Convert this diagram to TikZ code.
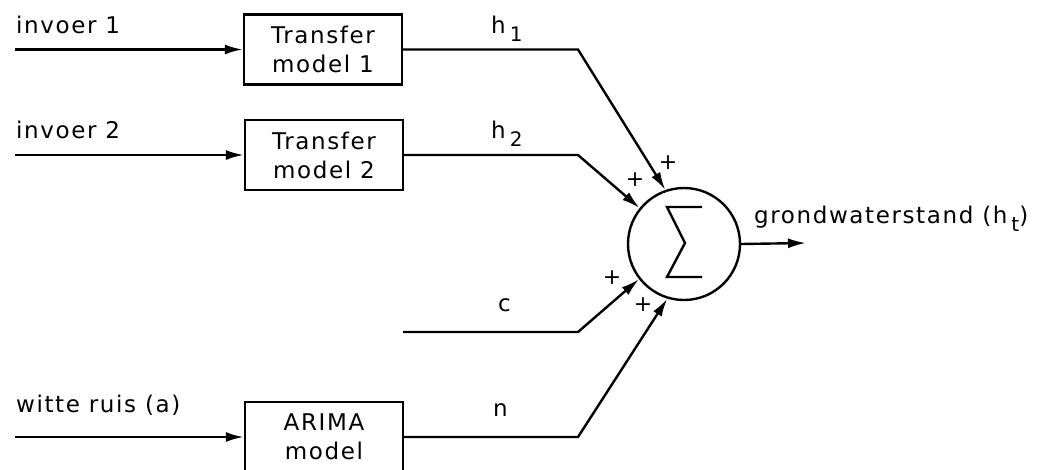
\documentclass[tikz,border=0pt]{standalone}
\usepackage{fontspec}
\setmainfont{DejaVu Sans}[LetterSpace=7]
\usetikzlibrary{arrows.meta}
\newcommand{\lsub}[1]{\kern4pt\raisebox{-8pt}{\fontsize{20}{20}\selectfont #1}}
\begin{document}
\begin{tikzpicture}[x=1pt,y=-1pt,
  line width=2.4pt,
  txt/.style={font=\fontsize{23}{29}\selectfont, inner sep=0pt, anchor=base west},
  blk/.style={draw, line width=2.4pt, minimum width=158pt, minimum height=70pt, align=center, font=\fontsize{23}{29}\selectfont, inner sep=0pt},
  conn/.style={line width=2.4pt, -{Latex[length=18pt,width=10pt]}},
  plus/.style={font=\fontsize{22}{22}\selectfont, inner sep=0pt}]
\useasboundingbox (0,0) rectangle (1050,469);
% blocks
\node[blk] (b1) at (323,49.5) {Transfer\\model 1};
\node[blk] (b2) at (324,155) {Transfer\\model 2};
\node[blk] (b3) at (324,437) {ARIMA\\model};
\node[draw, circle, line width=2.4pt, minimum size=112pt, inner sep=0pt] (sum) at (684,244) {};
% sigma
\draw[line width=2.4pt, line join=miter] (702,207) -- (667,207) -- (685,243) -- (667,277) -- (702,277);
% input coordinates
\coordinate (i1) at (15,49.5);
\coordinate (i2) at (15,155);
\coordinate (i3) at (15,437);
\coordinate (ci) at (403,332);
\coordinate (k1) at (578,49.5);
\coordinate (k2) at (578,155);
\coordinate (kc) at (578,332);
\coordinate (kn) at (578,437);
\coordinate (out) at (806,243);
% input arrows
\draw[conn] (i1) -- (b1.west);
\draw[conn] (i2) -- (b2.west);
\draw[conn] (i3) -- (b3.west);
% to sum
\draw[conn] (b1.east) -- (k1) -- (sum.109);
\draw[conn] (b2.east) -- (k2) -- (sum.141);
\draw[conn] (ci) -- (kc) -- (sum.218);
\draw[conn] (b3.east) -- (kn) -- (sum.253);
\draw[conn] (sum.east) -- (out);
% labels
\node[txt] (l1) at (15,33) {invoer 1};
\node[txt] (l2) at (15,138) {invoer 2};
\node[txt] (l3) at (15,412) {witte ruis (a)};
\node[txt] (lh1) at (490,33) {h\lsub{1}};
\node[txt] (lh2) at (490,138) {h\lsub{2}};
\node[txt] (lc) at (497,311) {c};
\node[txt] (ln) at (492,416) {n};
\node[txt] (lo) at (753,223) {grondwaterstand (h\lsub{t})};
% plus signs
\node[plus] (p1) at (668,163) {+};
\node[plus] (p2) at (635,180) {+};
\node[plus] (p3) at (612,278) {+};
\node[plus] (p4) at (643,305) {+};
\end{tikzpicture}
\end{document}
